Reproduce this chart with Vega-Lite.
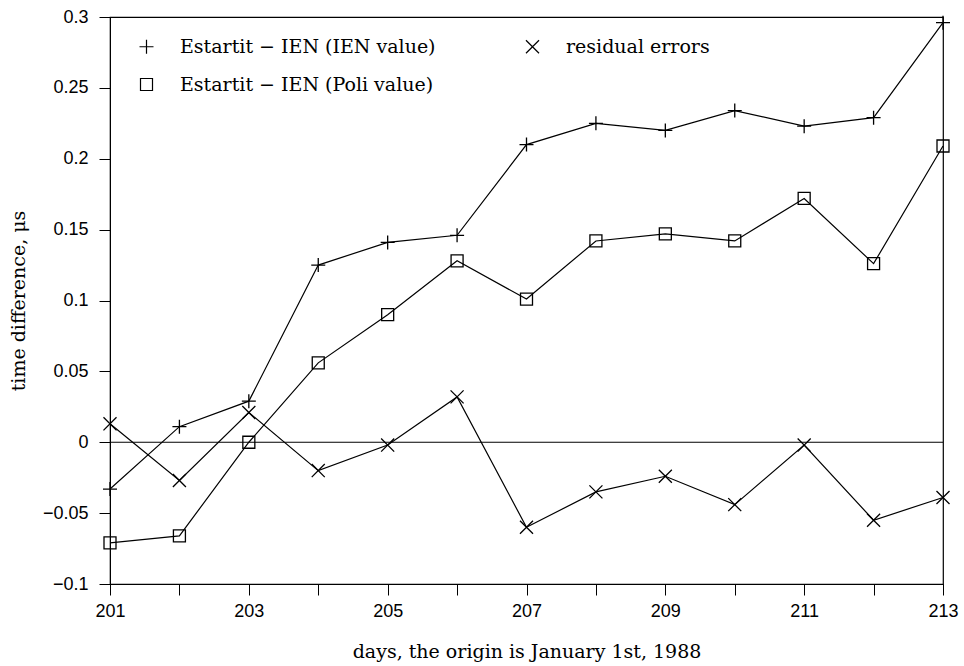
{
  "$schema": "https://vega.github.io/schema/vega-lite/v6.json",
  "width": 833,
  "height": 567,
  "autosize": {"type": "none"},
  "padding": {"left": 110, "top": 17, "right": 21, "bottom": 82},
  "background": "white",
  "config": {
    "view": {"stroke": "black", "strokeWidth": 1.2},
    "axis": {"domainColor": "black", "tickColor": "black", "labelColor": "black", "titleColor": "black", "grid": false, "labelFont": "Liberation Sans", "labelFontSize": 18, "titleFont": "DejaVu Serif", "titleFontSize": 19, "titleFontWeight": "normal"}
  },
  "datasets": {
    "series": [
      {"day": 201, "value": -0.033, "series": "Estartit − IEN (IEN value)"},
      {"day": 202, "value": 0.011, "series": "Estartit − IEN (IEN value)"},
      {"day": 203, "value": 0.029, "series": "Estartit − IEN (IEN value)"},
      {"day": 204, "value": 0.125, "series": "Estartit − IEN (IEN value)"},
      {"day": 205, "value": 0.141, "series": "Estartit − IEN (IEN value)"},
      {"day": 206, "value": 0.146, "series": "Estartit − IEN (IEN value)"},
      {"day": 207, "value": 0.21, "series": "Estartit − IEN (IEN value)"},
      {"day": 208, "value": 0.225, "series": "Estartit − IEN (IEN value)"},
      {"day": 209, "value": 0.22, "series": "Estartit − IEN (IEN value)"},
      {"day": 210, "value": 0.234, "series": "Estartit − IEN (IEN value)"},
      {"day": 211, "value": 0.223, "series": "Estartit − IEN (IEN value)"},
      {"day": 212, "value": 0.229, "series": "Estartit − IEN (IEN value)"},
      {"day": 213, "value": 0.296, "series": "Estartit − IEN (IEN value)"},
      {"day": 201, "value": -0.071, "series": "Estartit − IEN (Poli value)"},
      {"day": 202, "value": -0.066, "series": "Estartit − IEN (Poli value)"},
      {"day": 203, "value": 0.0, "series": "Estartit − IEN (Poli value)"},
      {"day": 204, "value": 0.056, "series": "Estartit − IEN (Poli value)"},
      {"day": 205, "value": 0.09, "series": "Estartit − IEN (Poli value)"},
      {"day": 206, "value": 0.128, "series": "Estartit − IEN (Poli value)"},
      {"day": 207, "value": 0.101, "series": "Estartit − IEN (Poli value)"},
      {"day": 208, "value": 0.142, "series": "Estartit − IEN (Poli value)"},
      {"day": 209, "value": 0.147, "series": "Estartit − IEN (Poli value)"},
      {"day": 210, "value": 0.142, "series": "Estartit − IEN (Poli value)"},
      {"day": 211, "value": 0.172, "series": "Estartit − IEN (Poli value)"},
      {"day": 212, "value": 0.126, "series": "Estartit − IEN (Poli value)"},
      {"day": 213, "value": 0.209, "series": "Estartit − IEN (Poli value)"},
      {"day": 201, "value": 0.013, "series": "residual errors"},
      {"day": 202, "value": -0.027, "series": "residual errors"},
      {"day": 203, "value": 0.021, "series": "residual errors"},
      {"day": 204, "value": -0.02, "series": "residual errors"},
      {"day": 205, "value": -0.002, "series": "residual errors"},
      {"day": 206, "value": 0.032, "series": "residual errors"},
      {"day": 207, "value": -0.06, "series": "residual errors"},
      {"day": 208, "value": -0.035, "series": "residual errors"},
      {"day": 209, "value": -0.024, "series": "residual errors"},
      {"day": 210, "value": -0.044, "series": "residual errors"},
      {"day": 211, "value": -0.002, "series": "residual errors"},
      {"day": 212, "value": -0.055, "series": "residual errors"},
      {"day": 213, "value": -0.039, "series": "residual errors"}
    ]
  },
  "data": {"name": "series"},
  "encoding": {
    "x": {
      "field": "day", "type": "quantitative",
      "scale": {"domain": [201, 213], "nice": false, "zero": false},
      "axis": {
        "title": "days, the origin is January 1st, 1988",
        "values": [201, 202, 203, 204, 205, 206, 207, 208, 209, 210, 211, 212, 213],
        "labelExpr": "datum.value % 2 == 1 ? datum.label : ''",
        "tickSize": 11, "labelPadding": 7, "titlePadding": 22, "labelFlush": false
      }
    },
    "y": {
      "field": "value", "type": "quantitative",
      "scale": {"domain": [-0.1, 0.3], "nice": false, "zero": false},
      "axis": {
        "title": "time difference, μs",
        "values": [-0.1, -0.05, 0, 0.05, 0.1, 0.15, 0.2, 0.25, 0.3],
        "format": "~g",
        "tickSize": 11, "labelPadding": 11, "titlePadding": 14, "labelFlush": false
      }
    }
  },
  "layer": [
    {
      "mark": {"type": "rule", "color": "black", "strokeWidth": 1.2},
      "data": {"values": [{"z": 0}]},
      "encoding": {"y": {"field": "z", "type": "quantitative"}, "x": null}
    },
    {
      "mark": {"type": "line", "color": "black", "strokeWidth": 1.2},
      "encoding": {"detail": {"field": "series"}}
    },
    {
      "mark": {"type": "point", "filled": false, "stroke": "black", "strokeWidth": 1.3, "opacity": 1},
      "encoding": {
        "shape": {
          "field": "series", "type": "nominal",
          "scale": {
            "domain": ["Estartit − IEN (IEN value)", "residual errors", "Estartit − IEN (Poli value)"],
            "range": ["M-1,0H1M0,-1V1", "M-1,-1L1,1M-1,1L1,-1", "square"]
          },
          "legend": {
            "title": null, "orient": "none", "legendX": 27, "legendY": 20,
            "columns": 2, "direction": "horizontal", "columnPadding": 87, "rowPadding": 18,
            "labelFont": "DejaVu Serif", "labelFontSize": 19, "labelColor": "black", "labelLimit": 0,
            "labelOffset": 24, "symbolStrokeColor": "black", "symbolStrokeWidth": 1.2,
            "symbolFillColor": "transparent", "symbolOpacity": 1
          }
        },
        "size": {
          "field": "series", "type": "nominal",
          "scale": {
            "domain": ["Estartit − IEN (IEN value)", "residual errors", "Estartit − IEN (Poli value)"],
            "range": [196, 144, 130]
          }
        }
      }
    }
  ]
}
